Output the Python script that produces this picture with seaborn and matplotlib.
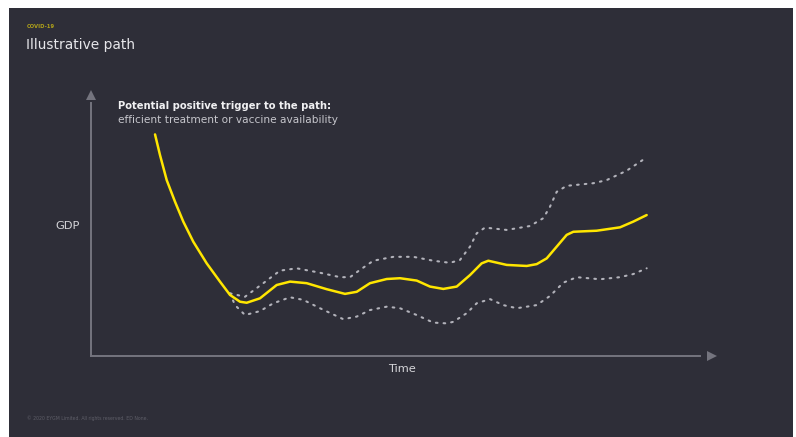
import matplotlib
matplotlib.use("Agg")
import matplotlib.pyplot as plt
import seaborn as sns
import pandas as pd
from matplotlib.patches import Rectangle

# ---- data (time and GDP in arbitrary units 0-100) ----
central_time = [10.31, 11.11, 12.19, 13.53, 14.86, 16.47, 18.63, 20.77, 22.38, 23.99,
                25.07, 27.21, 29.90, 32.05, 34.73, 37.95, 40.90, 42.79, 44.93, 47.62,
                49.76, 52.45, 54.59, 56.73, 58.89, 61.03, 62.91, 63.98, 66.94, 70.16,
                71.77, 73.38, 74.99, 76.60, 77.67, 81.43, 85.19, 87.33, 89.48]
central_gdp = [84.9, 77.0, 67.4, 59.1, 51.5, 43.8, 35.5, 28.5, 23.4, 20.8,
               20.4, 22.1, 27.2, 28.5, 27.9, 25.6, 23.8, 24.6, 27.9, 29.5,
               29.8, 28.9, 26.6, 25.7, 26.6, 31.0, 35.5, 36.5, 34.9, 34.5,
               35.2, 37.4, 41.9, 46.4, 47.6, 48.0, 49.3, 51.5, 54.0]

upper_time = [22.38, 24.80, 27.75, 30.43, 33.12, 36.88, 40.10, 41.71, 43.32, 45.46,
              48.68, 51.90, 55.12, 57.81, 59.42, 61.03, 62.11, 63.45, 66.94, 70.69,
              72.83, 73.91, 74.99, 76.60, 80.89, 83.04, 86.26, 89.48]
upper_gdp = [24.0, 22.7, 27.9, 32.7, 33.6, 31.9, 30.2, 30.2, 33.0, 36.5,
             38.0, 38.0, 36.5, 35.7, 36.8, 41.9, 47.0, 49.2, 48.3, 49.8,
             52.8, 57.2, 62.9, 65.2, 66.2, 67.4, 71.0, 76.1]

lower_time = [22.38, 23.19, 24.80, 27.21, 29.36, 32.05, 34.19, 36.88, 40.63, 42.79,
              44.93, 47.62, 49.76, 52.45, 55.12, 57.28, 58.34, 60.50, 62.11, 64.25,
              66.39, 68.55, 71.77, 73.91, 76.06, 78.21, 81.96, 85.19, 87.33, 89.48]
lower_gdp = [24.0, 19.5, 15.7, 17.2, 20.2, 22.5, 21.5, 18.3, 14.1, 15.1,
             17.6, 18.9, 18.3, 15.7, 12.8, 12.5, 13.1, 16.4, 20.2, 21.8,
             19.5, 18.3, 19.5, 23.0, 28.1, 30.2, 29.4, 30.2, 31.4, 33.6]

title_small = "COVID-19"
title = "Illustrative path"
note_bold = "Potential positive trigger to the path:"
note_regular = "efficient treatment or vaccine availability"
y_label = "GDP"
x_label = "Time"
footer = "© 2020 EYGM Limited. All rights reserved. ED None."

BG = "#2e2e38"
YELLOW = "#ffe600"
AXIS = "#74747e"

sns.set_theme(style="white")
plt.rcParams['font.family'] = ['DejaVu Sans']

W, H = 796, 437
fig = plt.figure(figsize=(W / 100, H / 100), dpi=100, facecolor="white")
fig.patches.append(Rectangle((9 / W, 0), (793 - 9) / W, (437 - 8) / H,
                             transform=fig.transFigure, facecolor=BG,
                             edgecolor="none", zorder=-10))

# axes: x 0..100 -> px 91..712 ; y 0..100 -> px 356..95
ax = fig.add_axes([91 / W, (H - 356) / H, (712 - 91) / W, (356 - 95) / H])
ax.set_zorder(5)
ax.set_facecolor("none")
ax.patch.set_alpha(0)
ax.set_xlim(0, 100)
ax.set_ylim(0, 100)

df_c = pd.DataFrame({"time": central_time, "gdp": central_gdp})
df_u = pd.DataFrame({"time": upper_time, "gdp": upper_gdp})
df_l = pd.DataFrame({"time": lower_time, "gdp": lower_gdp})

for d in (df_u, df_l):
    sns.lineplot(data=d, x="time", y="gdp", ax=ax, color="#b2b2ba",
                 linewidth=1.5, linestyle=(0, (0.8, 2.9)),
                 sort=False, estimator=None)
sns.lineplot(data=df_c, x="time", y="gdp", ax=ax, color=YELLOW, linewidth=1.8,
             sort=False, estimator=None)
for l in ax.lines:
    l.set_solid_capstyle("round")
    l.set_solid_joinstyle("round")
    l.set_dash_capstyle("round")
    l.set_dash_joinstyle("round")

# axis spines with arrow heads
for s in ("top", "right"):
    ax.spines[s].set_visible(False)
for s in ("left", "bottom"):
    ax.spines[s].set_visible(True)
    ax.spines[s].set_color(AXIS)
    ax.spines[s].set_linewidth(1.4)
ax.spines["left"].set_bounds(0, 97)
ax.spines["bottom"].set_bounds(0, 98)
ax.plot(0, 1, marker="^", markersize=7.5, color=AXIS, transform=ax.transAxes,
        clip_on=False, markeredgewidth=0)
ax.plot(1, 0, marker=">", markersize=7.5, color=AXIS, transform=ax.transAxes,
        clip_on=False, markeredgewidth=0)
ax.set_xticks([])
ax.set_yticks([])
ax.set_xlabel("")
ax.set_ylabel("")

def fx(px):
    return px / W

def fy(py):
    return 1 - py / H

fig.text(fx(27), fy(27), title_small, color="#b0a21a", fontsize=3.8,
         va="center", ha="left", fontweight="bold")
fig.text(fx(26), fy(45), title, color="#e6e6ea", fontsize=9.9,
         va="center", ha="left")
fig.text(fx(118), fy(106), note_bold, color="#f0f0f2", fontsize=7.2,
         fontweight="bold", va="center", ha="left")
fig.text(fx(118), fy(120), note_regular, color="#c6c6cc", fontsize=7.6,
         va="center", ha="left")
fig.text(fx(68), fy(226), y_label, color="#d6d6da", fontsize=8.2,
         va="center", ha="center")
fig.text(fx(402), fy(369), x_label, color="#d6d6da", fontsize=8.2,
         va="center", ha="center")
fig.text(fx(27), fy(418), footer, color="#5e5e68", fontsize=3.3,
         va="center", ha="left")

fig.savefig("out.png", dpi=100, facecolor="white")
